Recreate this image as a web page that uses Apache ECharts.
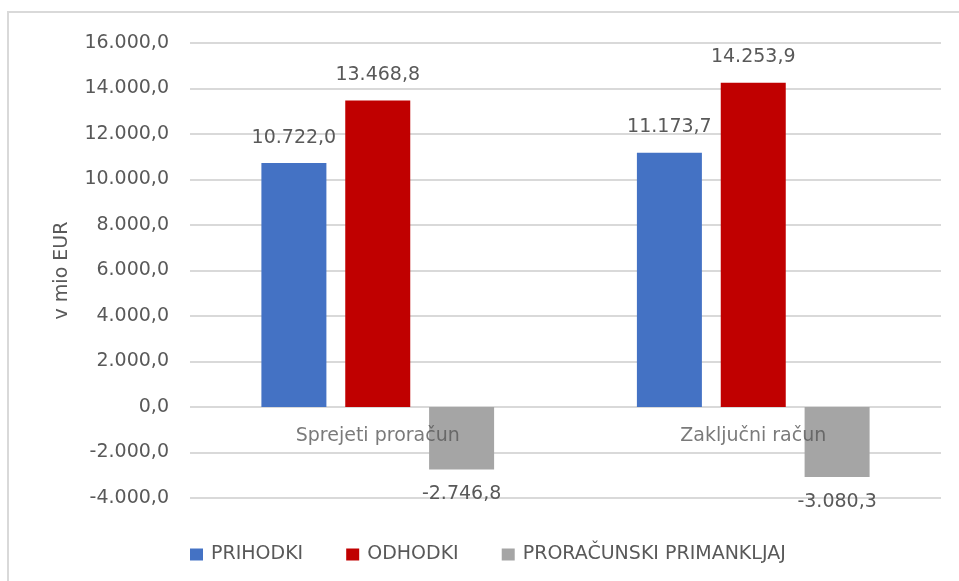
<!DOCTYPE html>
<html>
<head>
<meta charset="utf-8">
<script src="https://cdn.jsdelivr.net/npm/echarts@6/dist/echarts.min.js"></script>
<style>html,body{margin:0;padding:0;background:#fff}#c{width:959px;height:581px}</style>
</head>
<body>
<div id="c"></div>
<script>
const categories = ['Sprejeti proračun', 'Zaključni račun'];
const seriesNames = ['PRIHODKI', 'ODHODKI', 'PRORAČUNSKI PRIMANKLJAJ'];
const prihodki = [10722.0, 11173.7];
const odhodki = [13468.8, 14253.9];
const primanjkljaj = [-2746.8, -3080.3];
const yTicks = { min: -4000, max: 16000, interval: 2000 };

function fmt(v) {
  const neg = v < 0;
  const s = Math.abs(v).toFixed(1);
  let [i, d] = s.split('.');
  i = i.replace(/\B(?=(\d{3})+(?!\d))/g, '.');
  return (neg ? '-' : '') + i + ',' + d;
}

const FONT = 'DejaVu Sans';
const TXT = '#595959';
const chart = echarts.init(document.getElementById('c'));
const labelBase = { show: true, color: TXT, fontFamily: FONT, fontSize: 19, formatter: p => fmt(p.value) };

chart.setOption({
  animation: false,
  textStyle: { fontFamily: FONT },
  graphic: [{ type: 'rect', shape: { x: 8, y: 12, width: 1000, height: 700 }, style: { fill: 'none', stroke: '#d9d9d9', lineWidth: 2 }, silent: true }],
  grid: { left: 190, right: 18, top: 43, bottom: 83 },
  legend: {
    left: 185, top: 540, itemWidth: 13, itemHeight: 12, itemGap: 43,
    icon: 'rect',
    textStyle: { color: TXT, fontFamily: FONT, fontSize: 19, padding: [0, 0, 0, 3] },
    data: seriesNames
  },
  xAxis: {
    type: 'category', data: categories,
    axisLine: { show: false },
    axisTick: { show: false },
    axisLabel: { show: false }
  },
  yAxis: {
    type: 'value', min: yTicks.min, max: yTicks.max, interval: yTicks.interval,
    name: 'v mio EUR', nameLocation: 'middle', nameGap: 118, nameRotate: 90,
    nameTextStyle: { color: TXT, fontFamily: FONT, fontSize: 19 },
    axisLine: { show: false }, axisTick: { show: false },
    axisLabel: { color: TXT, fontFamily: FONT, fontSize: 19, margin: 21, formatter: v => fmt(v) },
    splitLine: { lineStyle: { color: '#d9d9d9', width: 2 } }
  },
  series: [
    { name: seriesNames[0], type: 'bar', data: prihodki, barWidth: 65, barGap: '29%', itemStyle: { color: '#4472C4' },
      label: Object.assign({ position: 'top', distance: 16 }, labelBase) },
    { name: seriesNames[1], type: 'bar', data: odhodki, barWidth: 65, barGap: '29%', itemStyle: { color: '#C00000' },
      label: Object.assign({ position: 'top', distance: 16 }, labelBase) },
    { name: seriesNames[2], type: 'bar', data: primanjkljaj, barWidth: 65, barGap: '29%', itemStyle: { color: '#A5A5A5' },
      label: Object.assign({ position: 'bottom', distance: 15 }, labelBase) },
    { name: 'cat', type: 'scatter', z: 10, symbolSize: 0, silent: true, legendHoverLink: false,
      data: categories.map(c => [c, 0]),
      label: { show: true, position: 'bottom', distance: 20, color: TXT, fontFamily: FONT, fontSize: 19,
        formatter: p => p.data[0] } }
  ]
});
</script>
</body>
</html>
